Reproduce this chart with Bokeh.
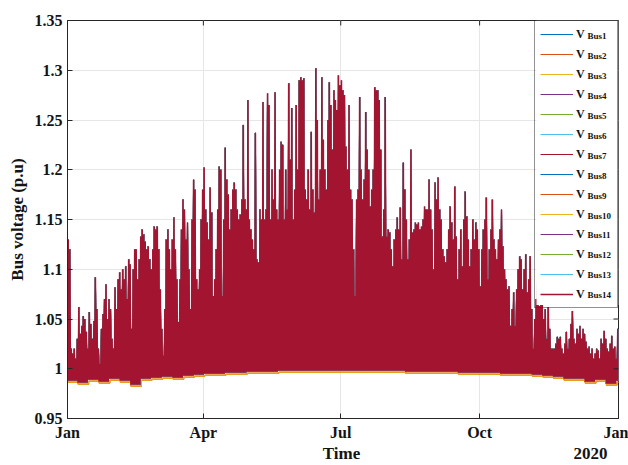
import datetime as dt

from bokeh.plotting import figure
from bokeh.models import (Range1d, FixedTicker, NumeralTickFormatter, Legend, LegendItem,
                          DatetimeAxis)
from bokeh.core.properties import value
from bokeh.embed import file_html
from bokeh.resources import INLINE

# ---------------- data ----------------
bus_names = ["Bus1", "Bus2", "Bus3", "Bus4", "Bus5", "Bus6", "Bus7",
             "Bus8", "Bus9", "Bus10", "Bus11", "Bus12", "Bus13", "Bus14"]
bus_colors = ["#0072BD", "#D95319", "#EDB120", "#7E2F8E", "#77AC30", "#4DBEEE", "#A2142F",
              "#0072BD", "#D95319", "#EDB120", "#7E2F8E", "#77AC30", "#4DBEEE", "#A2142F"]
# buses whose night-time minimum shows just below Bus14 (orange / yellow ones)
fringe_buses = ["Bus2", "Bus3", "Bus9", "Bus10"]

x_tick_dates = ["2019-01-01", "2019-04-01", "2019-07-01", "2019-10-01", "2020-01-01"]
x_tick_labels = ["Jan", "Apr", "Jul", "Oct", "Jan"]
y_ticks = [0.95, 1.0, 1.05, 1.1, 1.15, 1.2, 1.25, 1.3, 1.35]

# daily peak voltage of Bus14 (p.u), month by month
peak_jan = [1.13, 1.12, 1.02, 1.015, 1.02, 1.01, 1.03, 1.062, 1.035, 1.043,
            1.053, 1.05, 1.037, 1.02, 1.057, 1.045, 1.03, 1.048, 1.092, 1.06,
            1.02, 1.005, 1.04, 1.055, 1.07, 1.085, 1.05, 1.07, 1.06, 1.03, 1.02]
peak_feb = [1.082, 1.06, 1.09, 1.097, 1.08, 1.1, 1.09, 1.103, 1.07, 1.11,
            1.105, 1.04, 1.1, 1.12, 1.12, 1.09, 1.11, 1.133, 1.14, 1.135,
            1.128, 1.12, 1.123, 1.11, 1.1, 1.12, 1.143, 1.14]
peak_mar = [1.143, 1.12, 1.08, 1.04, 1.013, 1.06, 1.13, 1.14, 1.12, 1.1,
            1.13, 1.152, 1.12, 1.09, 1.047, 1.09, 1.14, 1.17, 1.16, 1.13,
            1.147, 1.1, 1.06, 1.15, 1.19, 1.18, 1.09, 1.08, 1.1, 1.15, 1.18]
peak_apr = [1.202, 1.16, 1.147, 1.13, 1.182, 1.157, 1.073, 1.09, 1.12, 1.16,
            1.203, 1.2, 1.073, 1.15, 1.222, 1.19, 1.175, 1.14, 1.16, 1.18,
            1.187, 1.18, 1.16, 1.15, 1.155, 1.17, 1.245, 1.17, 1.16, 1.27]
peak_may = [1.15, 1.14, 1.13, 1.12, 1.237, 1.11, 1.107, 1.16, 1.15, 1.268,
            1.15, 1.16, 1.277, 1.265, 1.15, 1.2, 1.17, 1.278, 1.16, 1.15,
            1.2, 1.228, 1.225, 1.15, 1.2, 1.16, 1.287, 1.21, 1.262, 1.15, 1.18]
peak_jun = [1.265, 1.2, 1.29, 1.293, 1.29, 1.292, 1.18, 1.17, 1.2, 1.16,
            1.238, 1.18, 1.157, 1.302, 1.25, 1.17, 1.2, 1.293, 1.23, 1.2,
            1.18, 1.25, 1.288, 1.265, 1.22, 1.28, 1.27, 1.26, 1.295, 1.285]
peak_jul = [1.29, 1.28, 1.275, 1.223, 1.2, 1.265, 1.18, 1.17, 1.12, 1.073,
            1.17, 1.18, 1.273, 1.2, 1.17, 1.19, 1.258, 1.22, 1.2, 1.163,
            1.18, 1.2, 1.283, 1.28, 1.28, 1.27, 1.22, 1.133, 1.16, 1.273, 1.133]
peak_aug = [1.14, 1.137, 1.12, 1.103, 1.13, 1.14, 1.152, 1.14, 1.162, 1.11,
            1.207, 1.18, 1.15, 1.11, 1.13, 1.22, 1.137, 1.14, 1.147, 1.145,
            1.147, 1.14, 1.143, 1.15, 1.163, 1.16, 1.16, 1.19, 1.16, 1.14, 1.1]
peak_sep = [1.187, 1.17, 1.192, 1.16, 1.15, 1.12, 1.113, 1.107, 1.12, 1.14,
            1.163, 1.147, 1.13, 1.183, 1.133, 1.09, 1.12, 1.14, 1.103, 1.15,
            1.178, 1.153, 1.13, 1.103, 1.12, 1.15, 1.13, 1.147, 1.14, 1.12]
peak_oct = [1.083, 1.12, 1.14, 1.15, 1.172, 1.09, 1.12, 1.14, 1.17, 1.13,
            1.12, 1.11, 1.13, 1.14, 1.16, 1.123, 1.1, 1.09, 1.08, 1.083,
            1.043, 1.06, 1.077, 1.043, 1.08, 1.1, 1.113, 1.11, 1.08, 1.1, 1.115]
peak_nov = [1.077, 1.09, 1.113, 1.06, 1.02, 1.05, 1.07, 1.093, 1.063, 1.07,
            1.068, 1.05, 1.06, 1.03, 1.062, 1.04, 1.02, 1.02, 1.02, 1.025,
            1.032, 1.03, 1.032, 1.02, 1.015, 1.025, 1.037, 1.02, 1.03, 1.045]
peak_dec = [1.058, 1.03, 1.025, 1.04, 1.035, 1.043, 1.03, 1.04, 1.035, 1.027,
            1.02, 1.022, 1.015, 1.02, 1.01, 1.015, 1.02, 1.018, 1.01, 1.03,
            1.025, 1.038, 1.03, 1.02, 1.017, 1.025, 1.033, 1.02, 1.022, 1.01, 1.04]

# weekly night-time minimum of Bus14 and of the lower (orange/yellow) buses
week_min_bus14 = [0.988, 0.986, 0.989, 0.987, 0.99,
                  0.988, 0.984, 0.99, 0.991,
                  0.992, 0.991, 0.993, 0.994,
                  0.995, 0.995, 0.996, 0.996, 0.997,
                  0.997, 0.997, 0.998, 0.998,
                  0.998, 0.998, 0.998, 0.998,
                  0.998, 0.998, 0.998, 0.998, 0.998,
                  0.998, 0.997, 0.997, 0.997,
                  0.997, 0.997, 0.996, 0.996,
                  0.996, 0.996, 0.995, 0.995, 0.995,
                  0.994, 0.993, 0.992, 0.99,
                  0.99, 0.987, 0.989, 0.985, 0.988]
week_min_fringe = [0.9865, 0.9845, 0.9875, 0.9855, 0.9885,
                   0.9865, 0.9825, 0.9885, 0.9895,
                   0.9905, 0.9895, 0.9915, 0.9925,
                   0.9935, 0.9935, 0.9945, 0.9945, 0.9955,
                   0.9955, 0.9955, 0.9965, 0.9965,
                   0.9965, 0.9965, 0.9965, 0.9965,
                   0.9965, 0.9965, 0.9965, 0.9965, 0.9965,
                   0.9965, 0.9955, 0.9955, 0.9955,
                   0.9955, 0.9955, 0.9945, 0.9945,
                   0.9945, 0.9945, 0.9935, 0.9935, 0.9935,
                   0.9925, 0.9915, 0.9905, 0.9885,
                   0.9885, 0.9855, 0.9875, 0.9835, 0.9865]

daily_peak = (peak_jan + peak_feb + peak_mar + peak_apr + peak_may + peak_jun +
              peak_jul + peak_aug + peak_sep + peak_oct + peak_nov + peak_dec)

# ---------------- helpers ----------------
UTC = dt.timezone.utc
DAY_MS = 86400000.0


def to_ms(s):
    d = dt.datetime.strptime(s, "%Y-%m-%d").replace(tzinfo=UTC)
    return int(d.timestamp() * 1000)


x_ticks = [to_ms(s) for s in x_tick_dates]
START, END = x_ticks[0], x_ticks[-1]


def build_series(peaks, week_mins):
    xs, ys = [], []
    n = len(peaks)
    for d in range(n):
        xs.append(START + d * DAY_MS)
        ys.append(week_mins[min(d // 7, len(week_mins) - 1)])
        xs.append(START + (d + 0.5) * DAY_MS)
        ys.append(peaks[d])
    xs.append(START + n * DAY_MS)
    ys.append(week_mins[-1])
    return xs, ys


def build_night(week_mins, n_days):
    xs, ys = [], []
    for w, v in enumerate(week_mins):
        xs.append(START + min(7 * w, n_days) * DAY_MS)
        ys.append(v)
        xs.append(START + min(7 * w + 7, n_days) * DAY_MS)
        ys.append(v)
    return xs, ys


# ---------------- layout ----------------
W, H = 628, 465
FRAME_L, FRAME_R, FRAME_T, FRAME_B = 67, 618, 20, 420
Y0, Y1 = 0.95, 1.35
LEG_W, LEG_PAD, LEG_ROW, LEG_SP = 82, 5, 16, 4
LEG_H = 2 * LEG_PAD + 14 * LEG_ROW + 13 * LEG_SP
TICK = 5


def px_x(px):
    return START + (px - FRAME_L) / (FRAME_R - FRAME_L) * (END - START)


def px_y(py):
    return Y1 - (py - FRAME_T) / (FRAME_B - FRAME_T) * (Y1 - Y0)


FONT = "Liberation Serif"
TXT = "#141414"
AX = "#262626"

p = figure(width=W, height=H, x_axis_type="datetime", output_backend="svg",
           toolbar_location=None, title=None,
           x_range=Range1d(START, END), y_range=Range1d(Y0, Y1),
           min_border_left=FRAME_L, min_border_right=W - FRAME_R,
           min_border_top=FRAME_T, min_border_bottom=H - FRAME_B)
p.background_fill_color = "white"
p.border_fill_color = "white"
p.outline_line_color = AX
p.outline_line_width = 1

# axes
xt = FixedTicker(ticks=x_ticks)
yt = FixedTicker(ticks=y_ticks)
p.xaxis.ticker = xt
p.xaxis.major_label_overrides = {t: l for t, l in zip(x_ticks, x_tick_labels)}
p.yaxis.ticker = yt
p.yaxis.formatter = NumeralTickFormatter(format="0.[00]")
for ax in (p.xaxis[0], p.yaxis[0]):
    ax.axis_line_color = AX
    ax.major_tick_line_color = AX
    ax.major_tick_in = TICK
    ax.major_tick_out = 0
    ax.minor_tick_line_color = None
    ax.major_label_text_font = FONT
    ax.major_label_text_font_style = "bold"
    ax.major_label_text_font_size = "16px"
    ax.major_label_text_color = TXT
p.xaxis.major_label_standoff = 5
p.yaxis.major_label_standoff = 5
p.yaxis.axis_label = "Bus voltage (p.u)"
p.yaxis.axis_label_text_font = FONT
p.yaxis.axis_label_text_font_style = "bold"
p.yaxis.axis_label_text_font_size = "17px"
p.yaxis.axis_label_text_color = TXT
p.yaxis.axis_label_standoff = 5

# second row under the time axis: axis title "Time" and the year "2020"
title_pos = [int(round(px_x(341))), int(round(px_x(590)))]
title_txt = ["Time", "2020"]
xlab = DatetimeAxis(ticker=FixedTicker(ticks=title_pos),
                    major_label_overrides={t: s for t, s in zip(title_pos, title_txt)},
                    axis_line_color=None, major_tick_line_color=None, minor_tick_line_color=None,
                    major_tick_in=0, major_tick_out=0, major_label_standoff=0,
                    major_label_text_font=FONT, major_label_text_font_style="bold",
                    major_label_text_font_size="17px", major_label_text_color=TXT)
p.add_layout(xlab, "below")

p.xgrid.ticker = xt
p.ygrid.ticker = yt
p.grid.grid_line_color = "#e6e6e6"
p.grid.grid_line_width = 1

# series
bx, by = build_series(daily_peak, week_min_bus14)
nx, ny = build_night(week_min_fringe, len(daily_peak))
renderers = {}
order = [n for n in bus_names if n not in fringe_buses and n != "Bus14"] + fringe_buses + ["Bus14"]
for name in order:
    i = bus_names.index(name)
    if name in fringe_buses:
        r = p.line(nx, ny, line_color=bus_colors[i], line_width=1.0)
    else:
        lw = 1.5 if name == "Bus14" else 1.0
        r = p.line(bx, by, line_color=bus_colors[i], line_width=lw)
    renderers[name] = r

# inward ticks on the right and top edges of the box (MATLAB "box on")
p.segment(x0=[px_x(FRAME_R - TICK)] * len(y_ticks), x1=[END] * len(y_ticks),
          y0=y_ticks, y1=y_ticks, line_color=AX, line_width=1)
p.segment(x0=x_ticks, x1=x_ticks, y0=[Y1] * len(x_ticks),
          y1=[px_y(FRAME_T + TICK)] * len(x_ticks), line_color=AX, line_width=1)

# white backing of the legend box + subscripts, drawn as glyphs after the data
p.quad(left=[px_x(FRAME_R - LEG_W)], right=[px_x(FRAME_R)],
       top=[px_y(FRAME_T)], bottom=[px_y(FRAME_T + LEG_H)],
       fill_color="white", line_color=None)
sub_left = FRAME_R - LEG_W + LEG_PAD + 33 + 3 + 10
sub_x = [px_x(sub_left)] * len(bus_names)
sub_y = [px_y(FRAME_T + LEG_PAD + LEG_ROW / 2 + (LEG_ROW + LEG_SP) * k + 3)
         for k in range(len(bus_names))]
p.text(x=sub_x, y=sub_y, text=bus_names, text_font=value(FONT), text_font_style="bold",
       text_font_size=value("9px"), text_color=TXT, text_align="left",
       text_baseline="middle")

items = [LegendItem(label="V", renderers=[renderers[n]]) for n in bus_names]
legend = Legend(items=items, location="top_right", margin=0, padding=LEG_PAD, spacing=LEG_SP,
                glyph_width=33, glyph_height=LEG_ROW, label_height=LEG_ROW, label_width=36,
                label_standoff=3, label_text_font=FONT, label_text_font_style="bold",
                label_text_font_size="12px", label_text_baseline="alphabetic",
                label_text_color=TXT, border_line_color=AX, border_line_width=1,
                background_fill_alpha=0.0)
p.add_layout(legend)

open("out.html", "w").write(file_html(p, INLINE))
